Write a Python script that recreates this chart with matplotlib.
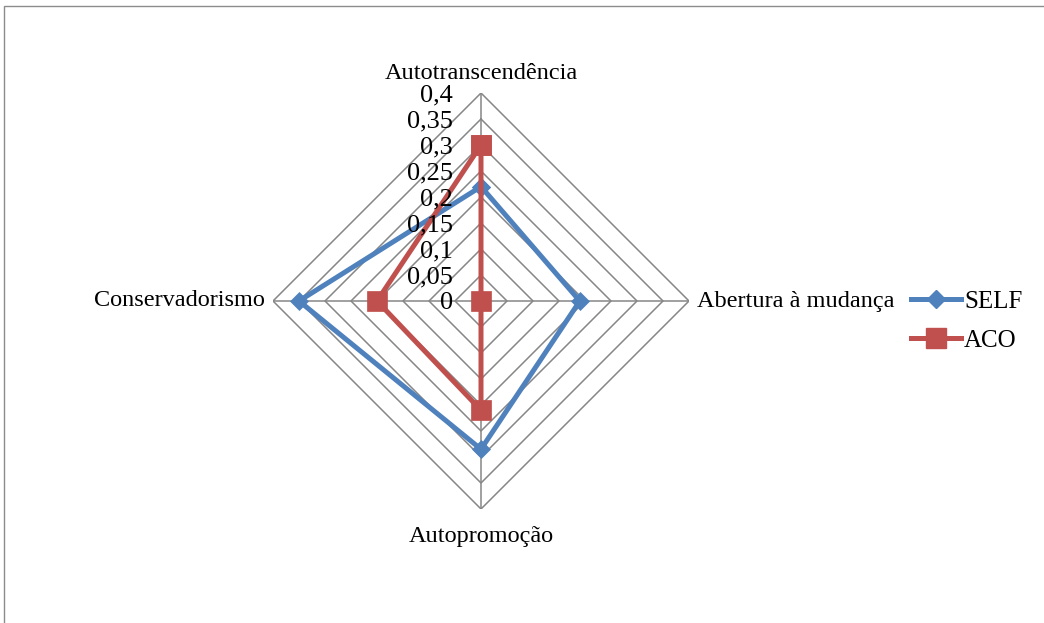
import numpy as np
import matplotlib
matplotlib.use("Agg")
import matplotlib.pyplot as plt
from matplotlib.lines import Line2D
from matplotlib.patches import Rectangle

categories = ["Autotranscendência", "Abertura à mudança", "Autopromoção", "Conservadorismo"]
self_values = [0.22, 0.19, 0.285, 0.35]
aco_values = [0.30, 0.0, 0.21, 0.20]
tick_values = [0, 0.05, 0.1, 0.15, 0.2, 0.25, 0.3, 0.35, 0.4]
tick_labels = ["0", "0,05", "0,1", "0,15", "0,2", "0,25", "0,3", "0,35", "0,4"]
series_names = ["SELF", "ACO"]

plt.rcParams["font.family"] = ["Liberation Serif", "DejaVu Serif"]

W, H = 1044, 623
fig = plt.figure(figsize=(W / 100, H / 100), dpi=100)

# outer chart frame (top and left edges visible)
fig.patches.append(Rectangle((4 / W, -0.1), 1.2, 1.1 - 6.5 / H, transform=fig.transFigure,
                             fill=False, edgecolor="#8c8c8c", linewidth=1.0))

rmax = 0.4
cx, cy, R = 481, 301, 208
ax = fig.add_axes([(cx - R) / W, (H - cy - R) / H, 2 * R / W, 2 * R / H])
ax.set_xlim(-rmax, rmax)
ax.set_ylim(-rmax, rmax)
ax.axis("off")

# clockwise from the top
angles = np.deg2rad([90, 0, -90, 180])
ca, sa = np.cos(angles), np.sin(angles)

def to_xy(vals):
    v = np.asarray(vals, dtype=float)
    x = np.append(v * ca, v[0] * ca[0])
    y = np.append(v * sa, v[0] * sa[0])
    return x, y

grid_color = "#868686"
for t in tick_values[1:]:
    gx, gy = to_xy([t] * 4)
    ax.plot(gx, gy, color=grid_color, lw=1.1, zorder=1)
for a_c, a_s in zip(ca, sa):
    ax.plot([0, rmax * a_c], [0, rmax * a_s], color=grid_color, lw=1.1, zorder=1)

blue = "#4F81BD"
red = "#C0504D"
sx, sy = to_xy(self_values)
ax.plot(sx, sy, color=blue, lw=3.6, marker="D", markersize=9.5, markeredgewidth=0.5,
        markeredgecolor=blue, zorder=3, solid_joinstyle="miter")
rx, ry = to_xy(aco_values)
ax.plot(rx, ry, color=red, lw=3.6, marker="s", markersize=14, markeredgewidth=0.5,
        markeredgecolor=red, zorder=4, solid_joinstyle="miter")

for t, lab in zip(tick_values, tick_labels):
    ax.annotate(lab, xy=(0, t), xytext=(-28, -2), textcoords="offset pixels",
                ha="right", va="center", fontsize=19, color="black", zorder=5)

label_offsets = [(0, 9, "center", "bottom"), (8, 0, "left", "center"),
                 (0, -17, "center", "top"), (-8, 0, "right", "center")]
for name, a_c, a_s, (dx, dy, ha, va) in zip(categories, ca, sa, label_offsets):
    ax.annotate(name, xy=(rmax * a_c, rmax * a_s), xytext=(dx, dy), textcoords="offset pixels",
                ha=ha, va=va, fontsize=17.5, color="black")

handles = [Line2D([], [], color=blue, lw=3.6, marker="D", markersize=9.5),
           Line2D([], [], color=red, lw=3.6, marker="s", markersize=14)]
fig.legend(handles, series_names, loc="center left", bbox_to_anchor=(898 / W, 1 - 321 / H),
           frameon=False, fontsize=18, handlelength=2.0, handletextpad=0.15,
           labelspacing=0.68, borderpad=0)

fig.savefig("out.png", dpi=100, facecolor="white")
